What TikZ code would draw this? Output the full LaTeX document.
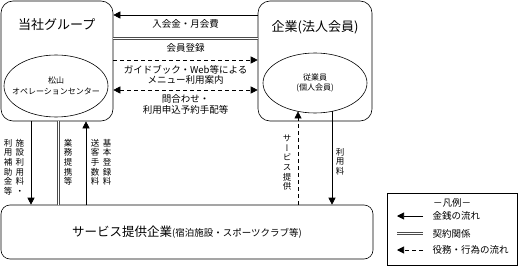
\documentclass[tikz,border=0pt]{standalone}
\usepackage{fontspec}
\setmainfont{Noto Sans CJK JP}
\newfontfamily\vjp[RawFeature=+vert]{Noto Sans CJK JP}
\usetikzlibrary{arrows.meta,shapes.geometric,positioning,calc}
\tikzset{
	roundbox/.style={
		draw, rectangle, rounded corners=12pt,
		line width=0.6pt, inner sep=0pt
	},
	oval/.style={draw, ellipse, line width=0.6pt, inner sep=0pt},
	money_arrow/.style={-{Triangle[length=7pt,width=7pt]}, line width=0.6pt},
	deed_arrow/.style={-{Triangle[length=7pt,width=7pt]}, line width=0.6pt, dash pattern=on 4pt off 3pt},
	deed_both/.style={{Triangle[length=7pt,width=7pt]}-{Triangle[length=7pt,width=7pt]}, line width=0.6pt, dash pattern=on 4pt off 3pt},
	contract_line/.style={draw=black!70, double=white, double distance=1.2pt, line width=0.8pt},
	title/.style={font=\fontsize{13}{15}\selectfont},
	small/.style={font=\fontsize{8}{10.5}\selectfont, align=center},
	lbl/.style={font=\fontsize{9.5}{10.5}\selectfont, align=center},
	vlbl/.style={font=\vjp\fontsize{8.5}{9.6}\selectfont, align=center, anchor=north, inner sep=0pt}
}
\begin{document}
\begin{tikzpicture}[x=1pt,y=-1pt]
	\useasboundingbox (0,0) rectangle (518,267);
	% boxes
	\node[roundbox, minimum width=112pt, minimum height=120pt] (grp) at (57,61) {};
	\node[title, anchor=west, inner sep=0pt] (grpname) at (18,25) {当社グループ};
	\node[oval, minimum width=104pt, minimum height=62pt] (ops) at (56,86) {};
	\node[small] (opsname) at (ops) {松山\\オペレーションセンター};
	\node[roundbox, minimum width=114pt, minimum height=120pt] (corp) at (315,61) {};
	\node[title] (corpname) at (315,27) {企業(法人会員)};
	\node[oval, minimum width=104pt, minimum height=60pt] (emp) at (315,83) {};
	\node[small] (empname) at (emp) {従業員\\(個人会員)};
	\node[roundbox, rounded corners=9pt, minimum width=372pt, minimum height=54pt] (svc) at (187,232) {};
	\node[font=\fontsize{12.5}{14}\selectfont] (svcname) at (svc) {サービス提供企業{\fontsize{9.5}{11}\selectfont(宿泊施設・スポーツクラブ等)}};
	% between the two upper boxes
	\draw[money_arrow] (corp.west |- 0,15) -- node[lbl, below=1pt] {入会金・月会費} (grp.east |- 0,15);
	\draw[contract_line] (grp.east |- 0,38.5) -- node[lbl, below=1.5pt] {会員登録} (corp.west |- 0,38.5);
	\draw[deed_arrow] (grp.east |- 0,60) -- node[lbl, below=1.5pt] {ガイドブック・Web等による\\メニュー利用案内} (corp.west |- 0,60);
	\draw[deed_both] (grp.east |- 0,90) -- node[lbl, below=1pt] {問合わせ・\\利用申込予約手配等} (corp.west |- 0,90);
	% group <-> service companies
	\draw[money_arrow] (grp.south -| 31,0) -- (svc.north -| 31,0);
	\draw[contract_line] (grp.south -| 58.5,0) -- (svc.north -| 58.5,0);
	\draw[money_arrow] (svc.north -| 86,0) -- (grp.south -| 86,0);
	\node[vlbl] (feeA) at (20,139) {施\\設\\利\\用\\料\\・};
	\node[vlbl] (feeB) at (8,139) {利\\用\\補\\助\\金\\等};
	\node[vlbl] (tieup) at (68,139) {業\\務\\提\\携\\等};
	\node[vlbl] (regfee) at (107,139) {基\\本\\登\\録\\料};
	\node[vlbl] (sendfee) at (95,139) {送\\客\\手\\数\\料};
	% members <-> service companies
	\coordinate (empL) at ($(emp.center)+(-17,28.4)$);
	\coordinate (empR) at ($(emp.center)+(17,28.4)$);
	\draw[deed_arrow] (svc.north -| empL) -- (empL);
	\draw[money_arrow] (empR) -- (svc.north -| empR);
	\node[vlbl] (offer) at (287,135) {サ\\ー\\ビ\\ス\\提\\供};
	\node[vlbl] (usefee) at (340,148) {利\\用\\料};
	% legend
	\node[draw, rectangle, line width=0.6pt, minimum width=130pt, minimum height=72pt] (legend) at (452,229) {};
	\node[lbl] (legtitle) at (452,203) {－凡例－};
	\coordinate (m1) at (397,216); \coordinate (m2) at (423,216);
	\coordinate (c1) at (397,233.5); \coordinate (c2) at (423,233.5);
	\coordinate (d1) at (397,250); \coordinate (d2) at (423,250);
	\draw[money_arrow] (m2) -- (m1);
	\draw[contract_line] (c1) -- (c2);
	\draw[deed_arrow] (d2) -- (d1);
	\node[lbl, right=6pt of m2] (legmoney) {金銭の流れ};
	\node[lbl, right=6pt of c2] (legcontract) {契約関係};
	\node[lbl, right=6pt of d2] (legdeed) {役務・行為の流れ};
\end{tikzpicture}
\end{document}
